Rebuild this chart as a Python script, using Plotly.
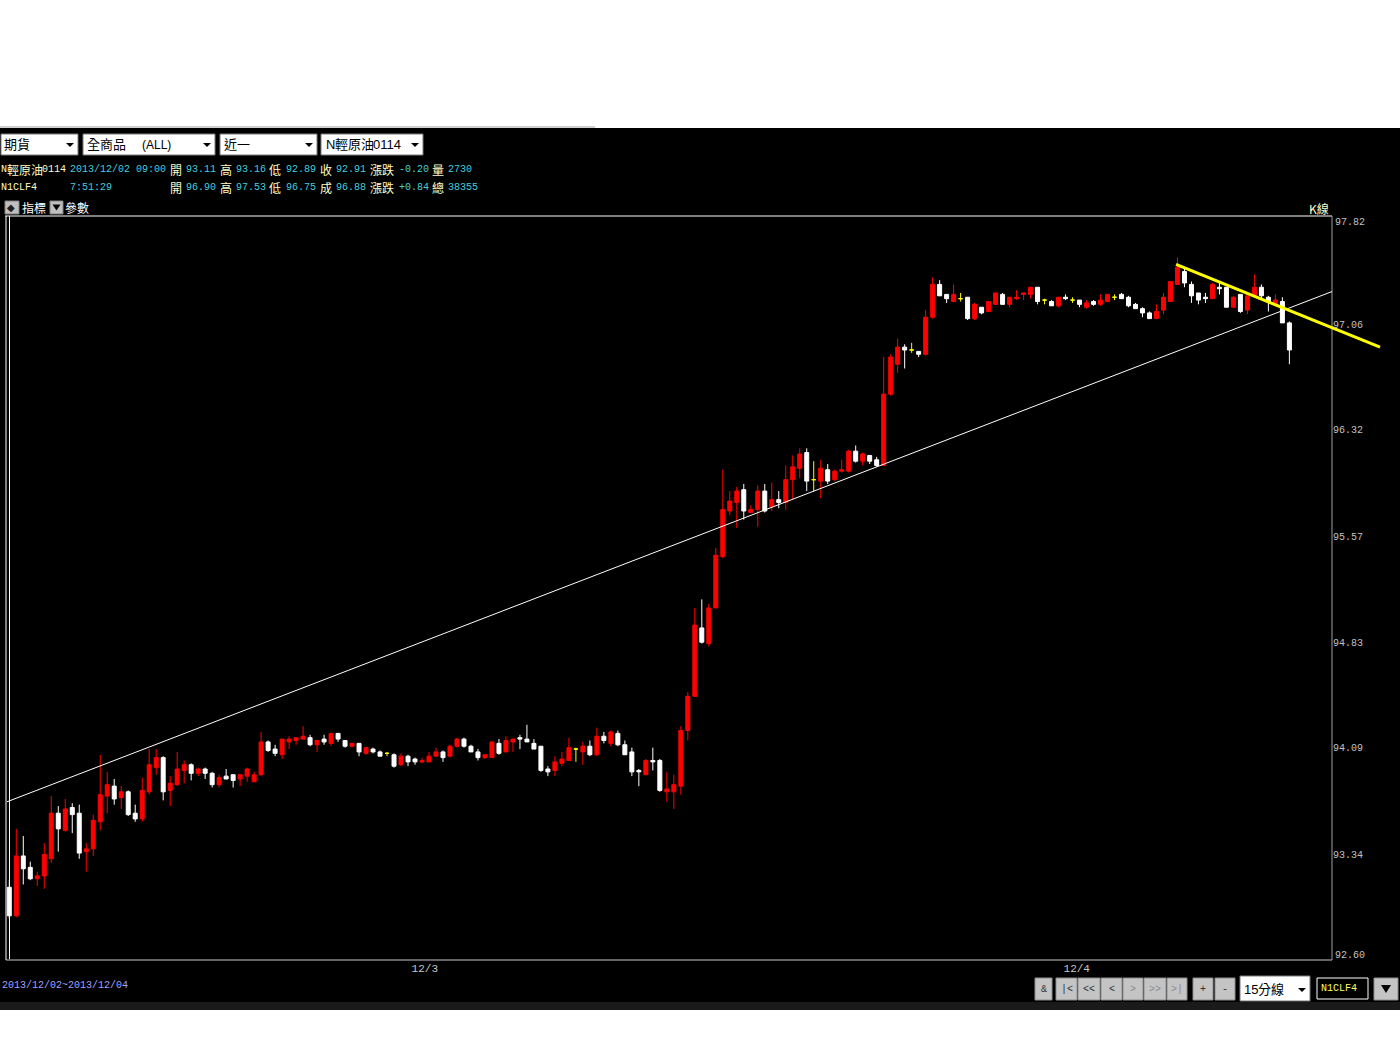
import plotly.graph_objects as go

W, H = 1400, 1050

# ---------------- data (15-minute candles, N1CLF4) ----------------
opens = [93.11, 92.91, 93.33, 93.25, 93.17, 93.19, 93.31, 93.63, 93.51, 93.67,
         93.63, 93.36, 93.38, 93.57, 93.75, 93.82, 93.74, 93.78, 93.63, 93.59,
         93.78, 93.95, 94.02, 93.79, 93.83, 93.93, 93.97, 93.91, 93.94, 93.91,
         93.83, 93.89, 93.90, 93.87, 93.89, 93.85, 93.90, 94.13, 94.08, 94.04,
         94.13, 94.14, 94.15, 94.16, 94.11, 94.15, 94.12, 94.19, 94.14, 94.10,
         94.12, 94.05, 94.08, 94.06, 94.05, 94.04, 93.97, 94.03, 94.01, 93.99,
         93.99, 94.03, 94.06, 94.03, 94.10, 94.15, 94.10, 94.06, 94.02, 94.02,
         94.12, 94.06, 94.13, 94.16, 94.15, 94.12, 94.10, 93.94, 93.93, 93.98,
         94.00, 94.08, 94.06, 94.10, 94.04, 94.17, 94.12, 94.19, 94.11, 94.06,
         93.93, 93.90, 94.00, 94.00, 93.78, 93.78, 93.82, 94.21, 94.45, 94.93,
         94.82, 95.07, 95.43, 95.75, 95.81, 95.90, 95.74, 95.76, 95.89, 95.78,
         95.83, 95.81, 95.97, 96.05, 96.16, 95.97, 95.96, 96.04, 95.97, 96.03,
         96.03, 96.17, 96.10, 96.14, 96.11, 96.07, 96.57, 96.78, 96.90, 96.88,
         96.87, 96.85, 97.11, 97.34, 97.27, 97.22, 97.24, 97.25, 97.10, 97.18,
         97.15, 97.20, 97.27, 97.20, 97.24, 97.27, 97.27, 97.32, 97.23, 97.22,
         97.19, 97.25, 97.23, 97.23, 97.18, 97.22, 97.20, 97.22, 97.25, 97.27,
         97.25, 97.20, 97.17, 97.14, 97.10, 97.16, 97.22, 97.34, 97.43, 97.34,
         97.28, 97.25, 97.24, 97.32, 97.32, 97.18, 97.27, 97.16, 97.26, 97.32,
         97.25, 97.20, 97.22, 97.07]
highs = [93.16, 93.52, 93.47, 93.29, 93.22, 93.42, 93.75, 93.68, 93.73, 93.70,
         93.69, 93.42, 93.62, 94.04, 93.92, 93.87, 93.82, 93.79, 93.69, 93.88,
         94.08, 94.08, 94.03, 93.89, 94.06, 94.00, 93.98, 93.95, 93.95, 93.92,
         93.90, 93.94, 93.90, 93.90, 93.95, 93.92, 94.20, 94.14, 94.11, 94.15,
         94.17, 94.16, 94.24, 94.18, 94.14, 94.18, 94.19, 94.19, 94.14, 94.12,
         94.12, 94.09, 94.09, 94.07, 94.06, 94.05, 94.05, 94.04, 94.02, 94.02,
         94.06, 94.09, 94.07, 94.11, 94.16, 94.16, 94.11, 94.08, 94.04, 94.13,
         94.15, 94.17, 94.15, 94.18, 94.25, 94.15, 94.10, 93.96, 94.03, 94.06,
         94.16, 94.09, 94.13, 94.14, 94.23, 94.20, 94.21, 94.21, 94.14, 94.09,
         93.94, 94.01, 94.09, 94.01, 93.92, 93.90, 94.24, 94.48, 95.07, 95.13,
         95.10, 95.49, 96.04, 95.89, 95.92, 95.94, 95.79, 95.93, 95.94, 95.95,
         95.89, 96.07, 96.14, 96.19, 96.19, 96.10, 96.11, 96.08, 96.04, 96.11,
         96.18, 96.21, 96.16, 96.14, 96.13, 96.83, 96.85, 96.96, 96.92, 96.93,
         96.87, 97.16, 97.39, 97.37, 97.27, 97.34, 97.28, 97.25, 97.21, 97.18,
         97.22, 97.28, 97.28, 97.25, 97.30, 97.28, 97.32, 97.32, 97.24, 97.23,
         97.25, 97.27, 97.25, 97.23, 97.23, 97.23, 97.27, 97.27, 97.27, 97.28,
         97.26, 97.21, 97.18, 97.15, 97.20, 97.28, 97.36, 97.53, 97.46, 97.36,
         97.28, 97.28, 97.35, 97.35, 97.32, 97.26, 97.27, 97.26, 97.41, 97.34,
         97.26, 97.27, 97.25, 97.08]
lows = [92.89, 92.90, 93.13, 93.16, 93.12, 93.10, 93.28, 93.36, 93.50, 93.49,
        93.31, 93.22, 93.33, 93.51, 93.63, 93.69, 93.66, 93.61, 93.57, 93.57,
        93.76, 93.90, 93.72, 93.68, 93.82, 93.84, 93.86, 93.89, 93.87, 93.81,
        93.81, 93.87, 93.81, 93.82, 93.85, 93.85, 93.89, 94.06, 94.03, 94.01,
        94.08, 94.11, 94.15, 94.10, 94.06, 94.11, 94.10, 94.13, 94.09, 94.09,
        94.03, 94.04, 94.05, 94.03, 94.03, 93.95, 93.96, 93.96, 93.97, 93.98,
        93.99, 94.03, 93.99, 94.02, 94.09, 94.09, 94.06, 94.00, 94.01, 94.02,
        94.04, 94.06, 94.06, 94.08, 94.13, 94.08, 93.92, 93.89, 93.89, 93.96,
        94.00, 93.99, 93.97, 94.03, 94.03, 94.12, 94.10, 94.10, 94.04, 93.89,
        93.82, 93.90, 93.93, 93.78, 93.71, 93.66, 93.76, 94.14, 94.45, 94.82,
        94.80, 95.07, 95.42, 95.72, 95.63, 95.69, 95.74, 95.64, 95.74, 95.75,
        95.77, 95.76, 95.83, 95.98, 95.89, 95.89, 95.84, 95.94, 95.96, 96.02,
        96.02, 96.09, 96.07, 96.08, 96.06, 96.07, 96.56, 96.72, 96.75, 96.86,
        96.83, 96.84, 97.10, 97.26, 97.21, 97.22, 97.22, 97.09, 97.09, 97.13,
        97.15, 97.20, 97.20, 97.18, 97.23, 97.23, 97.24, 97.20, 97.20, 97.19,
        97.18, 97.23, 97.21, 97.18, 97.17, 97.19, 97.19, 97.22, 97.23, 97.24,
        97.18, 97.17, 97.11, 97.10, 97.10, 97.13, 97.22, 97.34, 97.32, 97.21,
        97.20, 97.21, 97.24, 97.27, 97.18, 97.18, 97.14, 97.13, 97.26, 97.24,
        97.15, 97.20, 97.07, 96.78]
closes = [92.91, 93.33, 93.24, 93.17, 93.19, 93.34, 93.63, 93.52, 93.66, 93.62,
          93.35, 93.38, 93.58, 93.76, 93.83, 93.73, 93.78, 93.62, 93.59, 93.79,
          93.97, 94.02, 93.78, 93.84, 93.94, 93.97, 93.91, 93.94, 93.91, 93.83,
          93.88, 93.87, 93.86, 93.90, 93.94, 93.90, 94.13, 94.07, 94.05, 94.15,
          94.15, 94.16, 94.17, 94.11, 94.14, 94.13, 94.19, 94.15, 94.10, 94.12,
          94.06, 94.09, 94.06, 94.03, 94.05, 93.96, 94.03, 93.99, 93.99, 94.00,
          94.03, 94.06, 94.02, 94.10, 94.15, 94.10, 94.06, 94.02, 94.04, 94.13,
          94.05, 94.14, 94.15, 94.15, 94.13, 94.08, 93.93, 93.92, 93.99, 94.01,
          94.09, 94.08, 94.10, 94.04, 94.17, 94.14, 94.20, 94.11, 94.04, 93.92,
          93.92, 94.00, 93.99, 93.79, 93.80, 93.83, 94.21, 94.45, 94.95, 94.83,
          95.07, 95.44, 95.76, 95.82, 95.89, 95.75, 95.76, 95.89, 95.75, 95.83,
          95.81, 95.97, 96.06, 96.15, 95.96, 95.97, 96.05, 95.96, 96.03, 96.04,
          96.17, 96.10, 96.15, 96.10, 96.07, 96.57, 96.83, 96.90, 96.88, 96.88,
          96.85, 97.11, 97.34, 97.26, 97.24, 97.27, 97.24, 97.10, 97.20, 97.14,
          97.22, 97.28, 97.20, 97.25, 97.25, 97.28, 97.32, 97.22, 97.23, 97.19,
          97.25, 97.24, 97.23, 97.20, 97.21, 97.20, 97.23, 97.27, 97.25, 97.24,
          97.19, 97.17, 97.14, 97.10, 97.15, 97.25, 97.36, 97.46, 97.35, 97.26,
          97.23, 97.24, 97.34, 97.31, 97.18, 97.25, 97.15, 97.26, 97.32, 97.26,
          97.22, 97.23, 97.07, 96.88]

price_ticks = [97.82, 97.06, 96.32, 95.57, 94.83, 94.09, 93.34, 92.60]
date_labels = ["12/3", "12/4"]
date_label_pos = [59.4, 152.6]          # candle-index positions of the day labels

# hand-drawn trend lines (candle index, price)
support_x = [-0.33, 189.1]
support_y = [93.71, 97.29]
resist_x = [166.8, 195.96]
resist_y = [97.48, 96.90]

PRICE_MIN, PRICE_MAX = 92.60, 97.82

# ---------------- helpers ----------------
def px(x):
    return x / W


def py(y):
    return 1 - y / H


shapes = []
annotations = []


def rect(x0, y0, x1, y1, fill, line=None, lw=0, layer="below"):
    shapes.append(dict(type="rect", xref="paper", yref="paper",
                       x0=px(x0), x1=px(x1), y0=py(y1), y1=py(y0),
                       fillcolor=fill, line=dict(color=line or fill, width=lw),
                       layer=layer))


def seg(x0, y0, x1, y1, color, lw=1, layer="below"):
    shapes.append(dict(type="line", xref="paper", yref="paper",
                       x0=px(x0), x1=px(x1), y0=py(y0), y1=py(y1),
                       line=dict(color=color, width=lw), layer=layer))


def tri(cx, cy, w, h, color, layer="above"):
    path = "M {:.5f},{:.5f} L {:.5f},{:.5f} L {:.5f},{:.5f} Z".format(
        px(cx - w / 2), py(cy - h / 2), px(cx + w / 2), py(cy - h / 2), px(cx), py(cy + h / 2))
    shapes.append(dict(type="path", xref="paper", yref="paper", path=path,
                       fillcolor=color, line=dict(color=color, width=0), layer=layer))


MONO = "Liberation Mono, DejaVu Sans Mono, monospace"
CJK = "Noto Sans CJK TC, Noto Sans CJK SC, sans-serif"
SANS = "Liberation Sans, Arial, sans-serif"


def txt(s, x, y, color, size, family, anchor="left"):
    annotations.append(dict(text=s, x=px(x), y=py(y), xref="paper", yref="paper",
                            xanchor=anchor, yanchor="middle", showarrow=False,
                            borderpad=0, font=dict(color=color, size=size, family=family)))


# ---------------- background / frame ----------------
seg(0, 127, 595, 127, "#a0a0a0", 1)
rect(0, 128, 1400, 1002, "#000000")
rect(0, 1002, 1400, 1010, "#1a1a1a")

# plot frame
seg(5, 216, 1332, 216, "#ffffff", 1)
seg(6, 216, 6, 960, "#ffffff", 1)
seg(9.5, 216, 9.5, 959, "#ffffff", 1)
seg(6, 960, 1332, 960, "#c8c8c8", 1)
seg(1332, 216, 1332, 960, "#a0a0a0", 1)

# ---------------- top toolbar ----------------
boxes = [(1, 78), (83, 215), (220, 317), (321, 423)]
for x0, x1 in boxes:
    rect(x0, 134, x1, 155, "#ffffff", "#7a7a7a", 1, layer="above")
    tri(x1 - 8, 145, 8, 4, "#000000")

txt("期貨", 3, 144, "#000000", 13, CJK)
txt("全商品", 86, 144, "#000000", 13, CJK)
txt("(ALL)", 141, 145, "#000000", 12, SANS)
txt("近一", 223, 144, "#000000", 13, CJK)
txt("N", 325, 145, "#000000", 13, SANS)
txt("輕原油", 334, 144, "#000000", 13, CJK)
txt("0114", 372, 145, "#000000", 13, SANS)

LAB = "#ffffc8"
VAL = "#45cfdc"

# info line 1
line_y1 = 169
txt("N", 0, line_y1, LAB, 10, MONO)
txt("輕原油", 6, line_y1, LAB, 12, CJK)
txt("0114", 41, line_y1, LAB, 10, MONO)
info1 = [("2013/12/02 09:00", 69, VAL, MONO), ("開", 169, LAB, CJK), ("93.11", 185, VAL, MONO),
         ("高", 219, LAB, CJK), ("93.16", 235, VAL, MONO), ("低", 268, LAB, CJK),
         ("92.89", 285, VAL, MONO), ("收", 319, LAB, CJK), ("92.91", 335, VAL, MONO),
         ("漲跌", 369, LAB, CJK), ("-0.20", 398, VAL, MONO), ("量", 431, LAB, CJK),
         ("2730", 447, VAL, MONO)]
for s, x, c, f in info1:
    txt(s, x, line_y1, c, 12 if f == CJK else 10, f)

# info line 2
line_y2 = 187
txt("N1CLF4", 0, line_y2, LAB, 10, MONO)
info2 = [("7:51:29", 69, VAL, MONO), ("開", 169, LAB, CJK), ("96.90", 185, VAL, MONO),
         ("高", 219, LAB, CJK), ("97.53", 235, VAL, MONO), ("低", 268, LAB, CJK),
         ("96.75", 285, VAL, MONO), ("成", 319, LAB, CJK), ("96.88", 335, VAL, MONO),
         ("漲跌", 369, LAB, CJK), ("+0.84", 398, VAL, MONO), ("總", 431, LAB, CJK),
         ("38355", 447, VAL, MONO)]
for s, x, c, f in info2:
    txt(s, x, line_y2, c, 12 if f == CJK else 10, f)

# indicator / parameter row
rect(5, 201, 19, 214, "#c0c0c0", "#808080", 1, layer="above")
txt("◆", 6, 207.5, "#202020", 10, "DejaVu Sans")
txt("指標", 21, 207, "#ffffff", 12, CJK)
rect(50, 201, 63, 214, "#c0c0c0", "#808080", 1, layer="above")
tri(56.5, 207.5, 8, 6, "#000000")
txt("參數", 64, 207, "#ffffff", 12, CJK)
txt("K線", 1308, 208, LAB, 12, CJK)

# ---------------- bottom bar ----------------
txt("2013/12/02~2013/12/04", 1, 985, "#a0a0ff", 10, MONO)

buttons = [("&", 1035, 1052, "#303030"), ("|<", 1056, 1077, "#303030"), ("<<", 1078, 1100, "#303030"),
           ("<", 1101, 1122, "#303030"), (">", 1123, 1143, "#8a8a8a"), (">>", 1144, 1166, "#8a8a8a"),
           (">|", 1167, 1187, "#8a8a8a"), ("+", 1193, 1213, "#303030"), ("-", 1215, 1235, "#303030")]
for s, x0, x1, c in buttons:
    rect(x0, 978, x1, 1000, "#c4c4c4", "#8c8c8c", 1, layer="above")
    txt(s, (x0 + x1) / 2, 989, c, 10, MONO, anchor="center")

rect(1240, 976, 1310, 1001, "#ffffff", "#7a7a7a", 1, layer="above")
txt("15", 1243, 989, "#000000", 13, SANS)
txt("分線", 1257, 988, "#000000", 13, CJK)
tri(1302, 990, 8, 4, "#000000")
rect(1317, 978, 1368, 999, "#000000", "#ffffff", 1, layer="above")
txt("N1CLF4", 1320, 988, "#ffff60", 10, MONO)
rect(1374, 978, 1398, 1000, "#c4c4c4", "#8c8c8c", 1, layer="above")
tri(1386, 989, 10, 8, "#000000")

# y tick labels at the two frame edges sit inside the frame
for val, shift in [(PRICE_MAX, -6), (PRICE_MIN, 5)]:
    annotations.append(dict(text="%.2f" % val, x=px(1334), y=val, xref="paper", yref="y",
                            xanchor="left", yanchor="middle", yshift=shift, showarrow=False,
                            borderpad=0, font=dict(color="#c0c0c0", size=10, family=MONO)))

# ---------------- traces ----------------
idx = list(range(len(opens)))
fig = go.Figure()

groups = [("#ff0000", lambda o, c: c > o),
          ("#ffffff", lambda o, c: c < o),
          ("#ffff00", lambda o, c: c == o)]
for color, cond in groups:
    sel = [i for i in idx if cond(opens[i], closes[i])]
    fig.add_trace(go.Candlestick(
        x=sel,
        open=[opens[i] for i in sel], high=[highs[i] for i in sel],
        low=[lows[i] for i in sel], close=[closes[i] for i in sel],
        increasing=dict(line=dict(color=color, width=1), fillcolor=color),
        decreasing=dict(line=dict(color=color, width=1), fillcolor=color),
        whiskerwidth=0, hoverinfo="skip", showlegend=False))

fig.add_trace(go.Scatter(x=support_x, y=support_y, mode="lines",
                         line=dict(color="#ffffff", width=1), hoverinfo="skip", showlegend=False))
fig.add_trace(go.Scatter(x=resist_x, y=resist_y, mode="lines",
                         line=dict(color="#ffff00", width=3), hoverinfo="skip", showlegend=False))

# candle i sits at pixel 9.3 + 6.995*i; plot area spans pixels 6..1386
x_r0 = (6 - 9.3) / 6.995
x_r1 = (1386 - 9.3) / 6.995

fig.update_layout(
    width=W, height=H,
    margin=dict(l=0, r=0, t=0, b=0),
    paper_bgcolor="#ffffff", plot_bgcolor="rgba(0,0,0,0)",
    showlegend=False,
    boxgap=0.43, boxgroupgap=0, boxmode="overlay",
    shapes=shapes, annotations=annotations,
    xaxis=dict(domain=[px(6), px(1386)], range=[x_r0, x_r1],
               showgrid=False, zeroline=False, showline=False, ticks="",
               tickmode="array", tickvals=date_label_pos, ticktext=date_labels,
               tickfont=dict(family=MONO, size=11, color="#c8c8c8"),
               rangeslider=dict(visible=False), fixedrange=True),
    yaxis=dict(domain=[py(960), py(216)], range=[PRICE_MIN, PRICE_MAX],
               anchor="free", position=px(1332), side="right",
               showgrid=False, zeroline=False, showline=False, ticks="",
               tickmode="array", tickvals=price_ticks[1:-1],
               ticktext=["%.2f" % v for v in price_ticks[1:-1]],
               tickfont=dict(family=MONO, size=10, color="#c0c0c0"),
               fixedrange=True),
)

fig.write_html("out.html", config={"displayModeBar": False},
               post_script="document.body.style.margin='0';document.body.style.overflow='hidden';")
